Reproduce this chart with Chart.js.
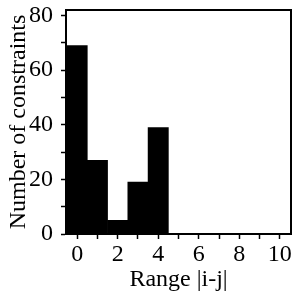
<!DOCTYPE html>
<html>
<head>
<meta charset="utf-8">
<script src="https://cdn.jsdelivr.net/npm/chart.js@4"></script>
<style>
  html, body { margin: 0; padding: 0; background: #fff; }
  #wrap { width: 294px; height: 295px; }
</style>
</head>
<body>
<div id="wrap"><canvas id="myChart"></canvas></div>
<script>
// histogram data
const ranges = [0, 1, 2, 3, 4, 5, 6, 7, 8, 9, 10];
const counts = [69, 27, 5, 19, 39, 0, 0, 0, 0, 0, 0];
const xTicks = [0, 1, 2, 3, 4, 5, 6, 7, 8, 9, 10];
const yTicks = [0, 10, 20, 30, 40, 50, 60, 70, 80];

const serif = 'Liberation Serif';

// box round the plot area (top and right sides)
const frame = {
    id: 'frame',
    afterDraw(chart) {
        const a = chart.chartArea;
        const ctx = chart.ctx;
        ctx.save();
        ctx.strokeStyle = '#000';
        ctx.lineWidth = 2;
        ctx.strokeRect(a.left, a.top, a.right - a.left, a.bottom - a.top);
        ctx.restore();
    }
};

let ctx = document.getElementById('myChart').getContext('2d');
var chart = new Chart(ctx, {
    type: 'bar',
    data: {
        datasets: [{
            data: ranges.map((r, i) => ({x: r, y: counts[i]})),
            backgroundColor: '#000',
            borderWidth: 0,
            barPercentage: 1,
            categoryPercentage: 1
        }]
    },
    options: {
        responsive: true,
        maintainAspectRatio: false,
        animation: false,
        layout: { padding: { top: 10, right: 3, left: 0, bottom: 0 } },
        plugins: { legend: { display: false }, tooltip: { enabled: false } },
        scales: {
            x: {
                type: 'linear',
                offset: false,
                min: -0.55,
                max: 10.55,
                afterBuildTicks: axis => { axis.ticks = xTicks.map(v => ({value: v})); },
                afterFit: axis => {
                    axis.height = 61;
                    axis.paddingLeft = 0;
                    axis.paddingRight = 0;
                },
                grid: { offset: false, drawOnChartArea: false, tickLength: 5, tickColor: '#000', tickWidth: 1.5 },
                border: { color: '#000', width: 2 },
                ticks: {
                    color: '#000',
                    padding: 1,
                    maxRotation: 0,
                    autoSkip: false,
                    font: { family: serif, size: 24 },
                    callback: v => (v % 2 === 0 ? String(v) : '')
                },
                title: {
                    display: true,
                    text: 'Range |i-j|',
                    color: '#000',
                    font: { family: serif, size: 24 },
                    padding: { top: 0, bottom: 1 }
                }
            },
            y: {
                min: 0,
                max: 82,
                afterBuildTicks: axis => { axis.ticks = yTicks.map(v => ({value: v})); },
                afterFit: axis => {
                    axis.width = 66;
                    axis.paddingTop = 0;
                    axis.paddingBottom = 0;
                },
                grid: { drawOnChartArea: false, tickLength: 5, tickColor: '#000', tickWidth: 1.5 },
                border: { color: '#000', width: 2 },
                ticks: {
                    color: '#000',
                    padding: 8,
                    autoSkip: false,
                    font: { family: serif, size: 24 },
                    callback: v => (v % 20 === 0 ? String(v) : '')
                },
                title: {
                    display: true,
                    text: 'Number of constraints',
                    color: '#000',
                    font: { family: serif, size: 24 },
                    padding: { top: 4, bottom: 0 }
                }
            }
        }
    },
    plugins: [frame]
});
</script>
</body>
</html>
